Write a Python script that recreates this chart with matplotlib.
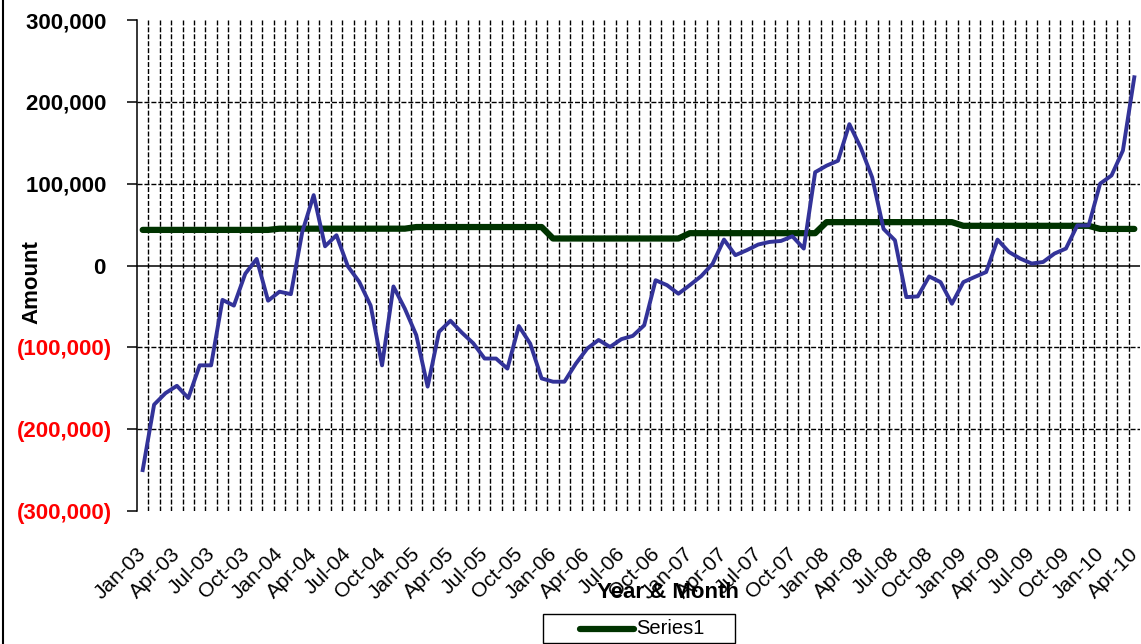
import numpy as np
import pandas as pd
import matplotlib
matplotlib.use("Agg")
import matplotlib.pyplot as plt
import matplotlib.transforms as mtransforms
from matplotlib.lines import Line2D
from matplotlib.patches import Rectangle

plt.rcParams['font.family'] = ['Liberation Sans', 'DejaVu Sans']
plt.rcParams['lines.scale_dashes'] = False

# ---------------- data ----------------
months = pd.date_range('2003-01-01', periods=88, freq='MS').strftime('%b-%y').tolist()

amount = [
    -250000, -170000, -156000, -147000, -162000, -122000, -122000, -42000,
    -49000, -10000, 8000, -43000, -32000, -35000, 41000, 86000,
    23500, 37000, -1000, -20000, -49000, -122000, -25600, -52800,
    -85000, -148000, -81000, -67500, -82000, -95000, -113700, -113700,
    -126000, -74000, -95500, -138000, -142000, -142000, -120000, -101500,
    -91000, -99500, -90000, -86000, -73000, -18000, -24000, -34500,
    -24000, -13000, 2000, 31700, 12600, 18700, 25600, 28800,
    30000, 35700, 20700, 114000, 122000, 128000, 172700, 144000,
    107700, 44700, 30800, -38600, -37800, -13400, -20300, -46700,
    -20300, -14000, -8000, 31600, 16500, 8400, 2400, 4300,
    14600, 20700, 49000, 49000, 100000, 110000, 140500, 230000,
]

# Series1: yearly average level, one value per year and months in that year
series1_yearly = [43500, 45000, 47000, 33000, 39500, 53000, 48500, 44700]
months_per_year = [12, 12, 12, 12, 12, 12, 12, 4]
series1 = np.repeat(series1_yearly, months_per_year)

xtick_labels = ['Jan-03', 'Apr-03', 'Jul-03', 'Oct-03', 'Jan-04', 'Apr-04', 'Jul-04', 'Oct-04',
                'Jan-05', 'Apr-05', 'Jul-05', 'Oct-05', 'Jan-06', 'Apr-06', 'Jul-06', 'Oct-06',
                'Jan-07', 'Apr-07', 'Jul-07', 'Oct-07', 'Jan-08', 'Apr-08', 'Jul-08', 'Oct-08',
                'Jan-09', 'Apr-09', 'Jul-09', 'Oct-09', 'Jan-10', 'Apr-10']
ytick_values = [300000, 200000, 100000, 0, -100000, -200000, -300000]
ytick_labels = ['300,000 ', '200,000 ', '100,000 ', '0 ', '(100,000)', '(200,000)', '(300,000)']

# ---------------- figure ----------------
W, H = 1141, 644
fig = plt.figure(figsize=(W / 100, H / 100), dpi=100)
ax = fig.add_axes([137 / W, 1 - 511 / H, (1140 - 137) / W, (511 - 20) / H])

x = np.arange(len(amount))
ax.set_xlim(-0.5, len(amount) - 0.5)
ax.set_ylim(-300000, 300000)

# gridlines
dash = (0, (3.6, 1.4))
ax.vlines(np.arange(0.5, len(amount) - 0.5, 1), -300000, 300000, colors='black',
          linewidth=1.0, linestyles=dash, zorder=1)
for v in [200000, 100000, -100000, -200000]:
    ax.axhline(v, color='black', linewidth=1.0, linestyle=dash, zorder=1)
ax.axhline(0, color='black', linewidth=1.1, zorder=1.5)

# series
ax.plot(x, series1, color='#003300', linewidth=4.5, solid_capstyle='round',
        solid_joinstyle='round', zorder=2)
ax.plot(x, amount, color='#333399', linewidth=2.8, solid_joinstyle='round', zorder=3)

# spines
for s in ['top', 'right', 'bottom']:
    ax.spines[s].set_visible(False)
ax.spines['left'].set_color('black')
ax.spines['left'].set_linewidth(1.1)

# y axis
ax.set_yticks(ytick_values)
ax.set_yticklabels(ytick_labels, fontsize=16, fontweight='bold')
for lab, v in zip(ax.get_yticklabels(), ytick_values):
    lab.set_color('#ff0000' if v < 0 else 'black')
ax.tick_params(axis='y', direction='out', length=7, width=1.1, pad=11)

# x axis
ax.set_xticks(x[::3])
ax.set_xticklabels(xtick_labels, fontsize=15, rotation=45, ha='right', va='top',
                   rotation_mode='anchor')
ax.tick_params(axis='x', length=0, pad=24)
offset = mtransforms.ScaledTranslation(-6 / 100, 0, fig.dpi_scale_trans)
for lab in ax.get_xticklabels():
    lab.set_transform(lab.get_transform() + offset)

# axis titles
fig.text(32 / W, 1 - 282 / H, 'Amount', rotation=90, fontsize=16, fontweight='bold',
         ha='center', va='center')
fig.text(668 / W, 1 - 592 / H, 'Year & Month', fontsize=16, fontweight='bold',
         ha='center', va='center')

# legend (Series1 only)
fig.patches.append(Rectangle((543 / W, 1 - 643 / H), (735 - 543) / W, (643 - 614) / H,
                             transform=fig.transFigure, facecolor='white',
                             edgecolor='black', linewidth=1.0))
fig.lines.append(Line2D([580 / W, 634 / W], [1 - 629 / H, 1 - 629 / H],
                        transform=fig.transFigure, color='#003300', linewidth=4.5,
                        solid_capstyle='round'))
fig.text(636 / W, 1 - 629 / H, 'Series1', fontsize=14.5, ha='left', va='center')

# outer left border
fig.lines.append(Line2D([2.5 / W, 2.5 / W], [0, 1], transform=fig.transFigure,
                        color='black', linewidth=1.5))

fig.savefig('out.png', dpi=100)
